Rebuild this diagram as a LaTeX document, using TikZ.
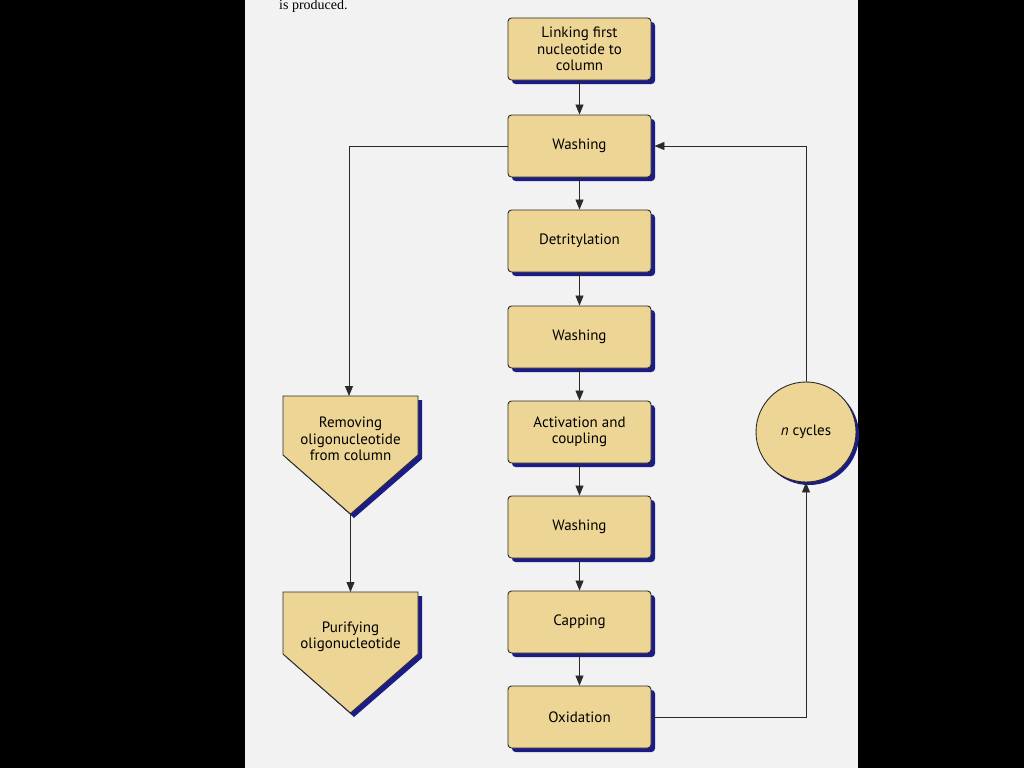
\documentclass[tikz,border=0pt]{standalone}
\usepackage{fontspec}
\setmainfont{PT Sans}
\newfontfamily\serifpage{Liberation Serif}
\usetikzlibrary{arrows.meta}
\definecolor{pagebg}{HTML}{F2F2F2}
\definecolor{boxfill}{HTML}{EDD695}
\definecolor{shadowblue}{HTML}{1C1C86}
\definecolor{edge}{HTML}{2A2A2A}
\tikzset{
  stepbox/.style={draw=edge, line width=0.9pt, fill=boxfill, rounded corners=3.5pt,
    minimum width=143pt, minimum height=62pt, align=center, inner sep=0pt,
    font=\fontsize{15pt}{16.5pt}\selectfont},
  boxshadow/.style={fill=shadowblue, rounded corners=3.5pt},
  lbl/.style={align=center, font=\fontsize{15pt}{16.5pt}\selectfont, inner sep=0pt},
  conn/.style={draw=edge, line width=0.8pt},
  arr/.style={conn, -{Triangle[length=10pt,width=8pt]}},
  pent/.style={draw=edge, line width=0.9pt, fill=boxfill},
}
\begin{document}
\begin{tikzpicture}[x=1pt,y=-1pt]
\useasboundingbox (0,0) rectangle (1024,768);
\fill[black] (0,0) rectangle (1024,768);
\fill[pagebg] (245,0) rectangle (858,768);
\node[anchor=base west, inner sep=0pt, font=\serifpage\fontsize{14pt}{16pt}\selectfont] (ptext) at (279,10) {is produced.};

% shadows for the column of boxes
\foreach \y in {49,146,241,337,432,527,622,717}{
  \fill[boxshadow] (508+4,\y-31+4) rectangle (651+4,\y+31+4);
}
\node[stepbox] (link) at (579.5,49) {Linking first\\nucleotide to\\column};
\node[stepbox] (wash1) at (579.5,146) {Washing};
\node[stepbox] (detr) at (579.5,241) {Detritylation};
\node[stepbox] (wash2) at (579.5,337) {Washing};
\node[stepbox] (act) at (579.5,432) {Activation and\\coupling};
\node[stepbox] (wash3) at (579.5,527) {Washing};
\node[stepbox] (cap) at (579.5,622) {Capping};
\node[stepbox] (oxi) at (579.5,717) {Oxidation};

% pentagon 1: removing
\fill[shadowblue] (287,400) -- (422,400) -- (422,459) -- (354,518) -- (287,459) -- cycle;
\draw[pent] (283,396) -- (418,396) -- (418,455) -- (350.5,514) -- (283,455) -- cycle;
\coordinate (remtop) at (349,396);
\coordinate (rembot) at (350.5,514);
\node[lbl] (remtxt) at (350.5,439) {Removing\\oligonucleotide\\from column};

% pentagon 2: purifying
\fill[shadowblue] (287,596) -- (422,596) -- (422,658) -- (354,717) -- (287,658) -- cycle;
\draw[pent] (283,592) -- (418,592) -- (418,654) -- (350.5,713) -- (283,654) -- cycle;
\coordinate (purtop) at (350.5,592);
\node[lbl] (purtxt) at (350.5,637) {Purifying\\oligonucleotide};

% circle
\fill[shadowblue] (809,435) circle (50);
\node[circle, draw=edge, line width=0.9pt, fill=boxfill, minimum size=100pt, inner sep=0pt,
  font=\fontsize{15pt}{16.5pt}\selectfont] (cyc) at (806,432) {\textit{n} cycles};

% connectors
\draw[arr] (link) -- (wash1);
\draw[arr] (wash1) -- (detr);
\draw[arr] (detr) -- (wash2);
\draw[arr] (wash2) -- (act);
\draw[arr] (act) -- (wash3);
\draw[arr] (wash3) -- (cap);
\draw[arr] (cap) -- (oxi);
\draw[arr] (wash1.west) -| (remtop);
\draw[arr] (rembot) -- (purtop);
\draw[arr] (oxi.east) -| (cyc.south);
\draw[arr] (cyc.north) |- ([xshift=3pt]wash1.east);
\end{tikzpicture}
\end{document}
